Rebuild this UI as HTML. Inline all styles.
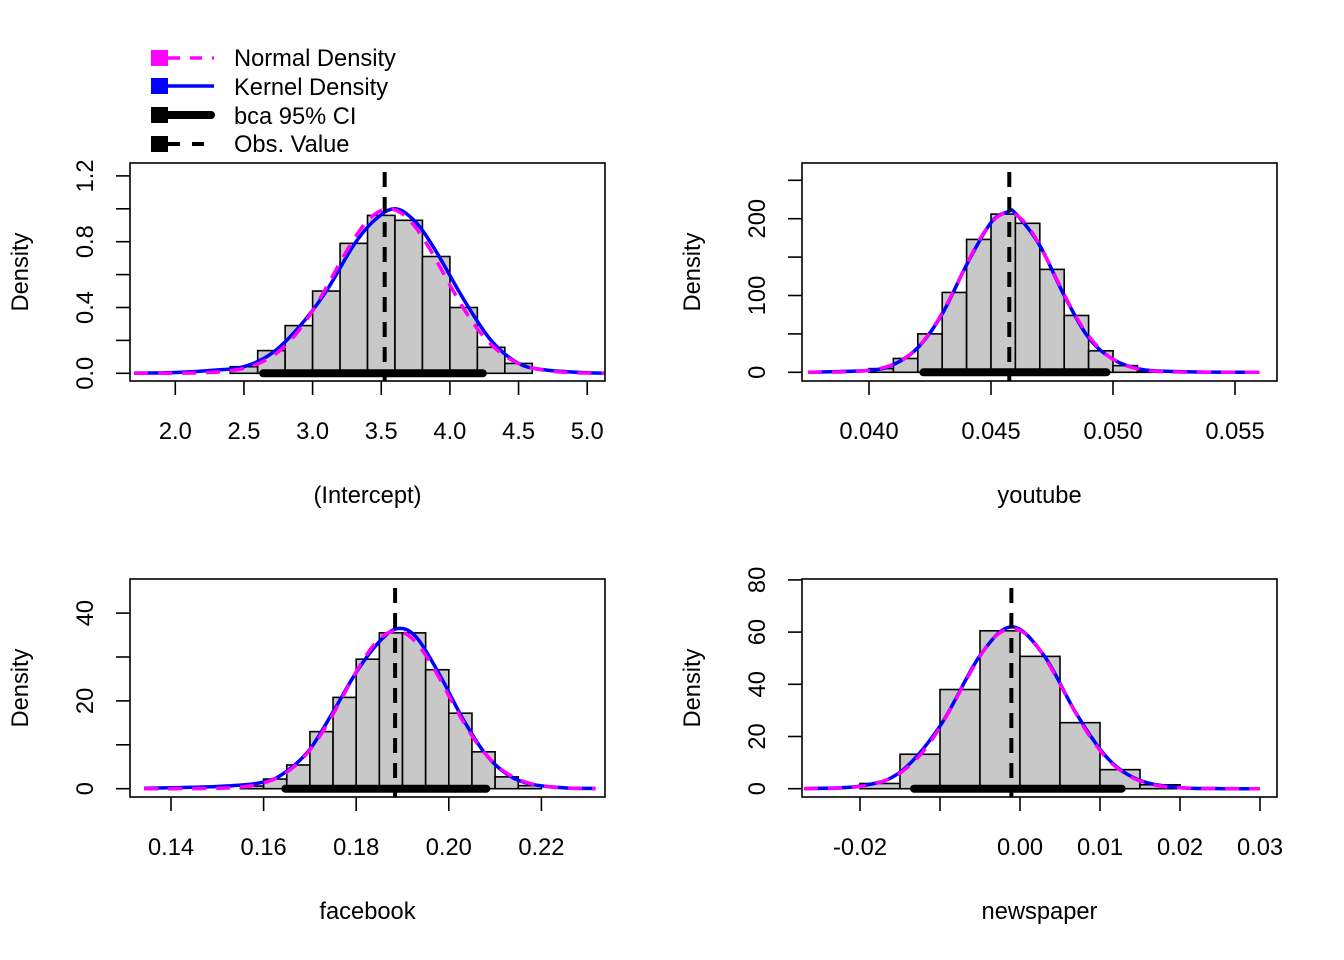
<!DOCTYPE html>
<html><head><meta charset="utf-8"><style>
html,body{margin:0;padding:0;background:#fff}
svg{display:block}
text{font-family:"Liberation Sans",Arial,sans-serif;font-size:23.7px;fill:#000}
</style></head><body>
<svg id="chart" width="1344" height="960" xmlns="http://www.w3.org/2000/svg">
<g>
  <rect x="151" y="50" width="17" height="16" fill="#ff00ff"/>
  <line x1="168" y1="58" x2="214" y2="58" stroke="#ff00ff" stroke-width="3.5" stroke-dasharray="12,10"/>
  <text x="234" y="66">Normal Density</text>
  <rect x="151" y="78" width="17" height="16" fill="#0000ff"/>
  <line x1="168" y1="86" x2="214" y2="86" stroke="#0000ff" stroke-width="3.5"/>
  <text x="234" y="95">Kernel Density</text>
  <rect x="151" y="107" width="17" height="16" fill="#000"/>
  <line x1="168" y1="115" x2="211" y2="115" stroke="#000" stroke-width="8" stroke-linecap="round"/>
  <text x="234" y="124">bca 95% CI</text>
  <rect x="151" y="136" width="17" height="16" fill="#000"/>
  <line x1="168" y1="144" x2="214" y2="144" stroke="#000" stroke-width="4" stroke-dasharray="12,12"/>
  <text x="234" y="152">Obs. Value</text>
</g>
</svg>
<script>
// ---- data ----
const p1Breaks = [2.4,2.6,2.8,3.0,3.2,3.4,3.6,3.8,4.0,4.2,4.4,4.6];
const p1Dens = [0.04,0.138,0.29,0.50,0.79,0.96,0.93,0.71,0.40,0.158,0.06];
const p1KernelX = [1.7,2.0,2.3,2.5,2.7,2.9,3.1,3.3,3.45,3.6,3.75,3.9,4.1,4.3,4.5,4.7,5.0,5.13];
const p1KernelY = [0.001,0.005,0.02,0.04,0.12,0.28,0.5,0.78,0.93,1.0,0.92,0.74,0.45,0.2,0.06,0.02,0.003,0.001];
const p1Stats = {mean:3.555, sd:0.399, obs:3.525, ciLo:2.64, ciHi:4.24};
const p1XTicks = [2.0,2.5,3.0,3.5,4.0,4.5,5.0];
const p1XLabels = ["2.0","2.5","3.0","3.5","4.0","4.5","5.0"];
const p1YTicks = [0,0.2,0.4,0.6,0.8,1.0,1.2];
const p1YLabels = ["0.0","","0.4","","0.8","","1.2"];

const p2Breaks = [0.040,0.041,0.042,0.043,0.044,0.045,0.046,0.047,0.048,0.049,0.050,0.051,0.052];
const p2Dens = [4.8,18,50,104,173,206,194,134,74,28,8.7,2];
const p2KernelX = [0.0375,0.040,0.041,0.042,0.043,0.044,0.045,0.0457,0.046,0.047,0.048,0.049,0.050,0.051,0.052,0.054,0.056];
const p2KernelY = [0.1,2.5,10,32,76,140,195,209,207,165,100,45,17,5,1.5,0.2,0];
const p2Stats = {mean:0.0457, sd:0.00192, obs:0.04575, ciLo:0.04223, ciHi:0.04973};
const p2XTicks = [0.040,0.045,0.050,0.055];
const p2XLabels = ["0.040","0.045","0.050","0.055"];
const p2YTicks = [0,50,100,150,200,250];
const p2YLabels = ["0","","100","","200",""];

const p3Breaks = [0.155,0.160,0.165,0.170,0.175,0.180,0.185,0.190,0.195,0.200,0.205,0.210,0.215,0.220];
const p3Dens = [0.6,2.2,5.4,13,20.8,29.5,35.5,35.5,27.1,17.2,8.4,2.7,0.7];
const p3KernelX = [0.1342,0.15,0.16,0.165,0.17,0.175,0.18,0.185,0.189,0.193,0.198,0.203,0.208,0.213,0.218,0.225,0.2317];
const p3KernelY = [0.1,0.5,1.5,4,9,17.5,26.5,33.5,36.5,34.5,26,16,7.8,3.0,1.0,0.2,0.05];
const p3Stats = {mean:0.1886, sd:0.0111, obs:0.1884, ciLo:0.1647, ciHi:0.2081};
const p3XTicks = [0.14,0.16,0.18,0.20,0.22];
const p3XLabels = ["0.14","0.16","0.18","0.20","0.22"];
const p3YTicks = [0,10,20,30,40];
const p3YLabels = ["0","","20","","40"];

const p4Breaks = [-0.020,-0.015,-0.010,-0.005,0.000,0.005,0.010,0.015,0.020];
const p4Dens = [2,13.2,38,60.5,50.7,25.3,7.3,1.5];
const p4KernelX = [-0.027,-0.02,-0.015,-0.01,-0.005,-0.001,0.003,0.007,0.011,0.015,0.02,0.025,0.03];
const p4KernelY = [0.05,1.0,6.3,24,51,62,51,29,11.5,3.2,0.4,0.05,0];
const p4Stats = {mean:-0.001, sd:0.0065, obs:-0.00108, ciLo:-0.01325, ciHi:0.01271};
const p4XTicks = [-0.02,-0.01,0.00,0.01,0.02,0.03];
const p4XLabels = ["-0.02","","0.00","0.01","0.02","0.03"];
const p4YTicks = [0,20,40,60,80];
const p4YLabels = ["0","20","40","60","80"];

// ---- layout ----
const NS = "http://www.w3.org/2000/svg";
const svg = document.getElementById('chart');
function mk(tag, attrs, parent){
  const e = document.createElementNS(NS, tag);
  for (const k in attrs) e.setAttribute(k, attrs[k]);
  (parent||svg).appendChild(e);
  return e;
}
function smoothPath(pts){
  let d = "M"+pts[0][0]+","+pts[0][1];
  for (let i=0;i<pts.length-1;i++){
    const p0=pts[Math.max(0,i-1)], p1=pts[i], p2=pts[i+1], p3=pts[Math.min(pts.length-1,i+2)];
    const c1x=p1[0]+(p2[0]-p0[0])/6, c1y=p1[1]+(p2[1]-p0[1])/6;
    const c2x=p2[0]-(p3[0]-p1[0])/6, c2y=p2[1]-(p3[1]-p1[1])/6;
    d += " C"+c1x+","+c1y+" "+c2x+","+c2y+" "+p2[0]+","+p2[1];
  }
  return d;
}
function panel(cfg){
  const g = mk('g', {});
  
  
  const X = v => cfg.x0px + (v - cfg.x0v) * cfg.xs;
  const Y = v => cfg.y0px - v * cfg.ys;
  for (let i=0;i<cfg.dens.length;i++){
    const r = mk('rect', {x:X(cfg.breaks[i]), y:Y(cfg.dens[i]), width:X(cfg.breaks[i+1])-X(cfg.breaks[i]), height:Y(0)-Y(cfg.dens[i]), fill:'#c8c8c8', stroke:'#000', 'stroke-width':1.6}, g);
    
    
  }
  const kp = cfg.kx.map((x,i)=>[X(x),Y(cfg.ky[i])]);
  const k = mk('path', {d:smoothPath(kp), fill:'none', stroke:'#0000ff', 'stroke-width':3.5}, g);
  
  
  const npts=[]; const a=cfg.kx[0], b=cfg.kx[cfg.kx.length-1];
  for (let j=0;j<=120;j++){ const x=a+(b-a)*j/120; const z=(x-cfg.st.mean)/cfg.st.sd;
    npts.push(X(x).toFixed(2)+","+Y(Math.exp(-z*z/2)/(cfg.st.sd*Math.sqrt(2*Math.PI))).toFixed(2)); }
  const n = mk('polyline', {points:npts.join(' '), fill:'none', stroke:'#ff00ff', 'stroke-width':3.5, 'stroke-dasharray':'14,10'}, g);
  
  
  const ci = mk('line', {x1:X(cfg.st.ciLo), x2:X(cfg.st.ciHi), y1:Y(0), y2:Y(0), stroke:'#000', 'stroke-width':8, 'stroke-linecap':'round'}, g);
  
  
  const ob = mk('line', {x1:X(cfg.st.obs), x2:X(cfg.st.obs), y1:cfg.by+9, y2:cfg.by+cfg.bh, stroke:'#000', 'stroke-width':4, 'stroke-dasharray':'15,10'}, g);
  
  
  const bx = mk('rect', {x:cfg.bx, y:cfg.by, width:cfg.bw, height:cfg.bh, fill:'none', stroke:'#000', 'stroke-width':1.6}, g);
  
  
  const xb = cfg.by+cfg.bh;
  cfg.xt.forEach((t,i)=>{
    mk('line', {x1:X(t), x2:X(t), y1:xb, y2:xb+14, stroke:'#000', 'stroke-width':1.6}, g);
    if (cfg.xl[i]) { const tx = mk('text', {x:X(t), y:xb+58, 'text-anchor':'middle'}, g); tx.textContent=cfg.xl[i];
      
       }
  });
  cfg.yt.forEach((t,i)=>{
    mk('line', {x1:cfg.bx-14, x2:cfg.bx, y1:Y(t), y2:Y(t), stroke:'#000', 'stroke-width':1.6}, g);
    if (cfg.yl[i]) { const tx = mk('text', {x:0, y:0, 'text-anchor':'middle', transform:'translate('+(cfg.bx-37)+','+Y(t)+') rotate(-90)'}, g); tx.textContent=cfg.yl[i];
      
       }
  });
  const yt = mk('text', {x:0, y:0, 'text-anchor':'middle', transform:'translate('+(cfg.bx-102)+','+(cfg.by+cfg.bh/2)+') rotate(-90)'}, g);
  yt.textContent='Density';
  
  
  const xt = mk('text', {x:cfg.bx+cfg.bw/2, y:xb+122, 'text-anchor':'middle'}, g);
  xt.textContent=cfg.title;
  
  
}
panel({name:'panel-intercept', bx:130, by:163, bw:475, bh:218, x0v:2.0, x0px:175.3, xs:137.3, y0px:373.3, ys:164.5,
  breaks:p1Breaks, dens:p1Dens, kx:p1KernelX, ky:p1KernelY, st:p1Stats, xt:p1XTicks, xl:p1XLabels, yt:p1YTicks, yl:p1YLabels, title:'(Intercept)'});
panel({name:'panel-youtube', bx:802, by:163, bw:475, bh:218, x0v:0.040, x0px:869, xs:24400, y0px:372.3, ys:0.768,
  breaks:p2Breaks, dens:p2Dens, kx:p2KernelX, ky:p2KernelY, st:p2Stats, xt:p2XTicks, xl:p2XLabels, yt:p2YTicks, yl:p2YLabels, title:'youtube'});
panel({name:'panel-facebook', bx:130, by:579, bw:475, bh:218, x0v:0.14, x0px:171, xs:4630, y0px:788.7, ys:4.39,
  breaks:p3Breaks, dens:p3Dens, kx:p3KernelX, ky:p3KernelY, st:p3Stats, xt:p3XTicks, xl:p3XLabels, yt:p3YTicks, yl:p3YLabels, title:'facebook'});
panel({name:'panel-newspaper', bx:802, by:579, bw:475, bh:218, x0v:0.0, x0px:1020, xs:8000, y0px:788.7, ys:2.61,
  breaks:p4Breaks, dens:p4Dens, kx:p4KernelX, ky:p4KernelY, st:p4Stats, xt:p4XTicks, xl:p4XLabels, yt:p4YTicks, yl:p4YLabels, title:'newspaper'});
</script>
</body></html>
